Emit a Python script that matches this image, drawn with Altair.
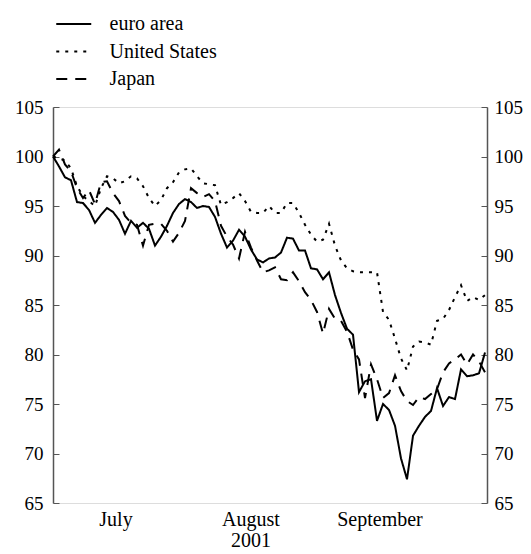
import altair as alt
import pandas as pd

# business-day index from 2 July 2001
day_index = list(range(73))

euro_area = [100.0, 99.0, 97.9, 97.6, 95.4, 95.3, 94.6, 93.3, 94.1, 94.8,
             94.4, 93.6, 92.2, 93.5, 92.8, 93.3, 92.7, 91.0, 91.9, 93.0,
             94.3, 95.2, 95.7, 95.4, 94.8, 95.0, 94.9, 93.9, 92.2, 90.8,
             91.5, 92.6, 91.9, 90.6, 89.6, 89.3, 89.7, 89.8, 90.3, 91.8,
             91.7, 90.5, 90.5, 88.7, 88.6, 87.6, 88.3, 86.0, 84.2, 82.6,
             82.0, 76.2, 77.3, 77.5, 73.3, 75.0, 74.4, 72.8, 69.5, 67.4,
             71.8, 72.8, 73.7, 74.3, 76.6, 74.8, 75.7, 75.5, 78.5, 77.8,
             77.9, 78.1, 80.2]

united_states = [100.0, 99.8, 99.6, 98.8, 97.0, 96.0, 95.5, 95.0, 96.8, 98.0,
                 97.8, 97.3, 97.5, 98.0, 97.8, 97.0, 95.8, 95.0, 95.6, 96.8,
                 97.4, 98.4, 98.7, 98.8, 98.0, 97.3, 97.2, 97.1, 95.1, 95.4,
                 95.8, 96.3, 95.5, 94.4, 94.3, 94.3, 95.0, 94.3, 94.3, 95.3,
                 95.3, 94.3, 93.1, 92.1, 91.4, 91.6, 93.2, 91.0, 89.5, 88.7,
                 88.4, 88.3, 88.3, 88.3, 88.3, 84.3, 83.5, 81.6, 79.6, 78.4,
                 80.8, 81.3, 81.2, 81.0, 83.4, 83.6, 84.5, 85.8, 87.0, 85.4,
                 85.8, 85.5, 86.0]

japan = [100.0, 100.7, 99.2, 98.5, 96.8, 95.8, 96.6, 95.2, 97.4, 97.5,
         96.3, 95.5, 94.0, 93.3, 93.1, 91.0, 93.1, 93.2, 93.2, 92.5,
         91.4, 92.3, 93.5, 96.8, 96.3, 95.9, 96.2, 95.5, 93.0, 91.9,
         91.1, 89.7, 92.4, 90.8, 89.5, 88.3, 88.5, 88.8, 87.6, 87.5,
         88.3, 87.4, 86.3, 85.5, 84.3, 82.1, 84.6, 83.6, 83.4, 82.3,
         80.5, 79.5, 75.6, 79.0, 77.5, 75.6, 76.1, 77.9, 76.3, 75.3,
         74.9, 75.7, 75.5, 76.0, 76.5, 78.2, 79.1, 79.5, 80.0, 79.0,
         80.0, 79.3, 78.2]

series_names = ["euro area", "United States", "Japan"]
month_names = ["July", "August", "September"]
month_mid = [10.5, 33.0, 54.5]
month_bounds = [21.5, 44.5, 64.5]
year_label = ["2001"]
year_pos = [33.0]
y_ticks = [65, 70, 75, 80, 85, 90, 95, 100, 105]

rows = []
for name, vals in zip(series_names, [euro_area, united_states, japan]):
    for d, v in zip(day_index, vals):
        rows.append({"day": d, "value": v, "series": name})
df = pd.DataFrame(rows)
months_df = pd.DataFrame({"mid": month_mid, "name": month_names})
year_df = pd.DataFrame({"mid": year_pos, "name": year_label})

W, H = 434, 396
AX = "#555555"
FONT = "Liberation Serif"
FS = 20
AFS = 19

xscale = alt.Scale(domain=[0, 72.33], nice=False, zero=False)
yscale = alt.Scale(domain=[65, 105], nice=False, zero=False)

lines = alt.Chart(df).mark_line(color="black", strokeWidth=2).encode(
    x=alt.X("day:Q", scale=xscale,
            axis=alt.Axis(values=month_bounds, labels=False, ticks=False, title=None,
                          grid=True, gridDash=[6, 2000], gridColor=AX, gridWidth=1,
                          domainColor=AX, domainWidth=1.5)),
    y=alt.Y("value:Q", scale=yscale,
            axis=alt.Axis(values=y_ticks, orient="left", ticks=False, title=None,
                          labelPadding=10, labelFont=FONT, labelFontSize=AFS,
                          labelColor="black", labelBaseline="middle",
                          grid=True, gridDash=[6, 2000], gridColor=AX,
                          gridWidth=1, domainColor=AX, domainWidth=1.5)),
    strokeDash=alt.StrokeDash(
        "series:N",
        scale=alt.Scale(domain=series_names, range=[[1, 0], [3, 6], [11, 8]]),
        legend=alt.Legend(title=None, orient="none", legendX=10.75, legendY=-93,
                          symbolType="M-2,0H2", symbolSize=306, symbolStrokeWidth=2,
                          symbolStrokeColor="black", rowPadding=7.5, labelOffset=25.75,
                          labelFont=FONT, labelFontSize=FS, labelColor="black",
                          padding=0)),
)

right = alt.Chart(df).mark_line(opacity=0).encode(
    x=alt.X("day:Q", scale=xscale, axis=None),
    y=alt.Y("value:Q", scale=yscale,
            axis=alt.Axis(values=y_ticks, orient="right", ticks=False, title=None,
                          labelPadding=7, labelFont=FONT, labelFontSize=AFS,
                          labelColor="black", labelBaseline="middle",
                          grid=True, gridDash=[6, 2000], gridColor=AX,
                          gridWidth=1, domainColor=AX, domainWidth=1.5)),
)

months = alt.Chart(months_df).mark_text(font=FONT, fontSize=FS, color="black",
                                         baseline="alphabetic").encode(
    x=alt.X("mid:Q", scale=xscale, axis=None),
    y=alt.value(419),
    text="name:N",
)

year = alt.Chart(year_df).mark_text(font=FONT, fontSize=FS, color="black",
                                     baseline="alphabetic").encode(
    x=alt.X("mid:Q", scale=xscale, axis=None),
    y=alt.value(440),
    text="name:N",
)

chart = alt.layer(lines, right, months, year).resolve_axis(y="independent").properties(
    width=W, height=H,
    autosize=alt.AutoSizeParams(type="none"),
    padding={"left": 45, "top": 99, "right": 36, "bottom": 50},
).configure_view(stroke=None).configure_axis(
    labelFont=FONT, labelFontSize=AFS, labelColor="black"
).configure_legend(
    labelFont=FONT, labelFontSize=FS, labelColor="black"
).configure_text(font=FONT).configure(background="white")

chart.save("out.html", embed_options={"renderer": "svg", "actions": False})
